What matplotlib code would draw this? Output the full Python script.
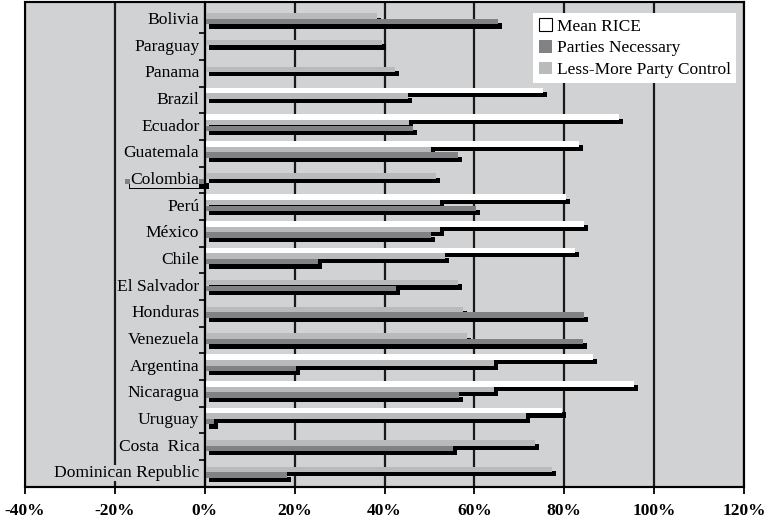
import numpy as np
import matplotlib
matplotlib.use("Agg")
import matplotlib.pyplot as plt
from matplotlib.patches import Patch, Rectangle

plt.rcParams['font.family'] = 'serif'
plt.rcParams['font.serif'] = ['Liberation Serif', 'DejaVu Serif']

# data (percent), top to bottom as in the chart
countries = ["Bolivia", "Paraguay", "Panama", "Brazil", "Ecuador", "Guatemala",
             "Colombia", "Perú", "México", "Chile", "El Salvador", "Honduras",
             "Venezuela", "Argentina", "Nicaragua", "Uruguay", "Costa  Rica",
             "Dominican Republic"]
mean_rice = [np.nan, np.nan, np.nan, 75.3, 92.2, 83.3, np.nan, 80.4, 84.4, 82.4,
             np.nan, np.nan, np.nan, 86.4, 95.5, 79.5, np.nan, np.nan]
less_more = [38.3, 39.4, 42.3, 45.2, 45.4, 50.3, 51.4, 52.3, 52.3, 53.5,
             56.3, 57.5, 58.4, 64.4, 64.4, 71.5, 73.5, 77.3]
parties = [65.3, np.nan, np.nan, np.nan, 46.3, 56.3, -17.8, 60.4, 50.3, 25.2,
           42.5, 84.4, 84.2, 20.3, 56.6, 2.0, 55.2, 18.3]
xticks = [-40, -20, 0, 20, 40, 60, 80, 100, 120]

bg = '#d1d2d4'
series = [
    ("Mean RICE", mean_rice, 'white', -0.355),
    ("Less-More Party Control", less_more, '#b9babc', -0.145),
    ("Parties Necessary", parties, '#808285', 0.065),
]
h = 0.205
dx, dy = 0.9, 0.16

fig = plt.figure(figsize=(7.7, 5.23), dpi=100)
ax = fig.add_axes([25/770, 1 - 486.7/523, 719/770, 484.7/523])
ax.set_facecolor(bg)

y = np.arange(len(countries))
for k, (name, vals, col, off) in enumerate(series):
    v = np.array(vals, dtype=float)
    m = ~np.isnan(v)
    # drop shadow, then the bar itself
    ax.barh(y[m] + off + dy, v[m], height=h, left=dx, color='black',
            linewidth=0, zorder=3 + 2*k)
    ax.barh(y[m] + off, v[m], height=h, color=col, linewidth=0, zorder=4 + 2*k)

ax.set_xlim(-40, 120)
ax.set_ylim(17.5, -0.67)
ax.set_xticks(xticks)
ax.set_xticklabels([f"{t}%" for t in xticks], fontsize=12.5, fontweight='bold',
                   fontfamily='Liberation Serif')
ax.tick_params(axis='x', direction='out', length=5, width=1.3, pad=7)
ax.grid(axis='x', color='#1a1a1a', lw=1.6, zorder=1)
ax.set_axisbelow(True)

ax.spines['left'].set_position(('data', 0))
ax.spines['left'].set_linewidth(1.5)
ax.spines['left'].set_zorder(20)
for s in ['top', 'right', 'bottom']:
    ax.spines[s].set_linewidth(1.5)
ax.set_yticks(np.arange(len(countries) - 1) + 0.5)
ax.set_yticklabels([])
ax.tick_params(axis='y', direction='out', length=4, width=1.2)
ax.add_patch(Rectangle((0, 0), 1, 1, transform=ax.transAxes, fill=False,
                       lw=1.5, edgecolor='black', zorder=20, clip_on=False))

for i, c in enumerate(countries):
    ax.text(-1.2, i, c, ha='right', va='center', fontsize=12.6,
            zorder=15, bbox=dict(facecolor=bg, edgecolor='none', pad=0))

handles = [Patch(facecolor='white', edgecolor='black', lw=0.8, label="Mean RICE"),
           Patch(facecolor='#808285', edgecolor='none', label="Parties Necessary"),
           Patch(facecolor='#b9babc', edgecolor='none', label="Less-More Party Control")]
leg = ax.legend(handles=handles, loc='upper right', bbox_to_anchor=(0.989, 0.977),
                borderaxespad=0, fontsize=12.5, frameon=True, fancybox=False,
                framealpha=1, facecolor='white', edgecolor='none',
                handlelength=0.75, handleheight=0.75, handletextpad=0.3,
                labelspacing=0.3, borderpad=0.3)
leg.set_zorder(25)

fig.savefig("out.png", dpi=100, facecolor='white')
